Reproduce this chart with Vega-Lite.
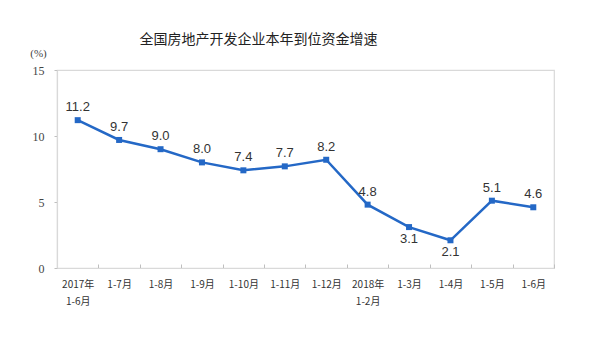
{
  "$schema": "https://vega.github.io/schema/vega-lite/v6.json",
  "autosize": "none",
  "width": 497,
  "height": 198,
  "padding": {"left": 57, "top": 70, "right": 46, "bottom": 88},
  "background": "white",
  "config": {
    "view": {"stroke": "#d9d9d9", "strokeWidth": 1.2}
  },
  "title": {
    "text": "全国房地产开发企业本年到位资金增速",
    "anchor": "middle",
    "dx": -47,
    "offset": 0,
    "font": "Noto Sans CJK SC",
    "fontSize": 14,
    "fontWeight": "normal",
    "color": "#222222"
  },
  "data": {
    "values": [
      {"period": "2017年 1-6月", "value": 11.2},
      {"period": "1-7月", "value": 9.7},
      {"period": "1-8月", "value": 9.0},
      {"period": "1-9月", "value": 8.0},
      {"period": "1-10月", "value": 7.4},
      {"period": "1-11月", "value": 7.7},
      {"period": "1-12月", "value": 8.2},
      {"period": "2018年 1-2月", "value": 4.8},
      {"period": "1-3月", "value": 3.1},
      {"period": "1-4月", "value": 2.1},
      {"period": "1-5月", "value": 5.1},
      {"period": "1-6月", "value": 4.6}
    ]
  },
  "encoding": {
    "x": {
      "field": "period",
      "type": "ordinal",
      "sort": null,
      "scale": {"paddingInner": 0, "paddingOuter": 0},
      "axis": {
        "title": null,
        "labelAngle": 0,
        "labelExpr": "split(datum.label, ' ')",
        "labelFont": "Noto Sans CJK SC",
        "labelFontSize": 10,
        "labelColor": "#333333",
        "labelLineHeight": 17,
        "labelPadding": 15,
        "labelBaseline": "top",
        "tickBand": "extent",
        "tickSize": -4,
        "tickColor": "#bfbfbf",
        "domainColor": "#d9d9d9",
        "domainWidth": 1.2
      }
    },
    "y": {
      "field": "value",
      "type": "quantitative",
      "scale": {"domain": [0, 15]},
      "axis": {
        "values": [0, 5, 10, 15],
        "grid": false,
        "title": "(%)",
        "titleAngle": 0,
        "titleAlign": "center",
        "titleBaseline": "middle",
        "titleX": -19,
        "titleY": -17,
        "titleFont": "Liberation Serif",
        "titleFontSize": 11,
        "titleFontWeight": "normal",
        "titleColor": "#444444",
        "labelFont": "Liberation Serif",
        "labelFontSize": 12,
        "labelColor": "#444444",
        "labelPadding": 10,
        "tickSize": 3,
        "tickColor": "#bfbfbf",
        "domainColor": "#d9d9d9",
        "domainWidth": 1.2
      }
    }
  },
  "layer": [
    {
      "mark": {"type": "line", "color": "#2468c6", "strokeWidth": 2.5}
    },
    {
      "mark": {"type": "point", "shape": "square", "filled": true, "size": 36, "color": "#2468c6", "opacity": 1}
    },
    {
      "transform": [{"filter": "datum.value >= 4"}],
      "mark": {"type": "text", "baseline": "bottom", "dy": -6, "font": "Liberation Sans", "fontSize": 13, "color": "#333333"},
      "encoding": {"text": {"field": "value", "type": "quantitative", "format": ".1f"}}
    },
    {
      "transform": [{"filter": "datum.value < 4"}],
      "mark": {"type": "text", "baseline": "top", "dy": 6, "font": "Liberation Sans", "fontSize": 13, "color": "#333333"},
      "encoding": {"text": {"field": "value", "type": "quantitative", "format": ".1f"}}
    }
  ]
}
